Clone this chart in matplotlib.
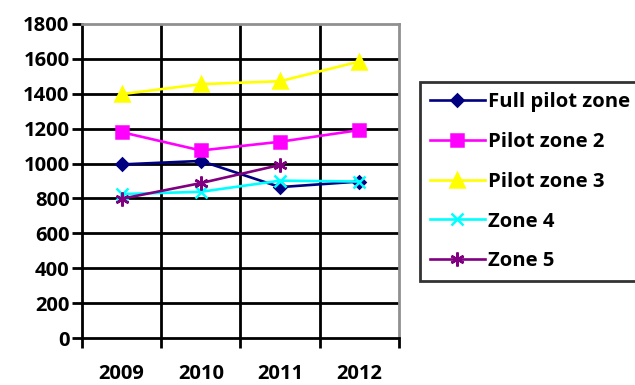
import numpy as np
import matplotlib.pyplot as plt

years = ['2009', '2010', '2011', '2012']
full_pilot = [995, 1015, 865, 897]
pilot2 = [1180, 1075, 1125, 1192]
pilot3 = [1398, 1455, 1472, 1585]
zone4 = [825, 838, 902, 897]
zone5 = [798, 888, 992, np.nan]

plt.rcParams['font.family'] = ['Open Sans', 'DejaVu Sans']
plt.rcParams['font.weight'] = 'bold'

fig = plt.figure(figsize=(6.35, 3.85), dpi=100)
ax = fig.add_axes([82/635, 1-338/385, 317/635, 314/385])

x = np.arange(len(years))
series = [
    ('Full pilot zone', full_pilot, '#000080', 'D', 6.5),
    ('Pilot zone 2', pilot2, '#FF00FF', 's', 9),
    ('Pilot zone 3', pilot3, '#FFFF00', '^', 10),
    ('Zone 4', zone4, '#00FFFF', 'x', 9),
    ('Zone 5', zone5, '#800080', (6, 2, 0), 10),
]
for name, vals, col, mk, ms in series:
    ax.plot(x, vals, color=col, lw=1.9, marker=mk, markersize=ms,
            markerfacecolor=col, markeredgecolor=col, mew=1.8, label=name, zorder=3)

ax.set_xlim(-0.5, 3.5)
ax.set_ylim(0, 1800)
ax.set_yticks(range(0, 1801, 200))
ax.set_xticks(x)
ax.set_xticklabels(years)
ax.set_xticks(np.arange(-0.5, 3.6, 1), minor=True)
ax.tick_params(axis='x', which='major', length=0, pad=19, labelsize=14.5)
ax.tick_params(axis='x', which='minor', length=7, width=2, direction='out')
ax.tick_params(axis='y', length=7, width=2, direction='out', labelsize=14.5, pad=2)

for yv in range(200, 1800, 200):
    ax.axhline(yv, color='black', lw=2, zorder=1)
for xv in [0.5, 1.5, 2.5]:
    ax.axvline(xv, color='black', lw=2, zorder=1)

ax.spines['left'].set_linewidth(2)
ax.spines['bottom'].set_linewidth(2)
for s in ['top', 'right']:
    ax.spines[s].set_color('#909090')
    ax.spines[s].set_linewidth(2)

leg = fig.legend(loc='upper left', bbox_to_anchor=(420/635, 1-82/385),
                 frameon=True, fancybox=False, fontsize=14.6, handlelength=2.7,
                 handletextpad=0.15, labelspacing=0.98, borderpad=0.49,
                 borderaxespad=0)
leg.get_frame().set_edgecolor('black')
leg.get_frame().set_linewidth(2)

fig.savefig('out.png', dpi=100)
